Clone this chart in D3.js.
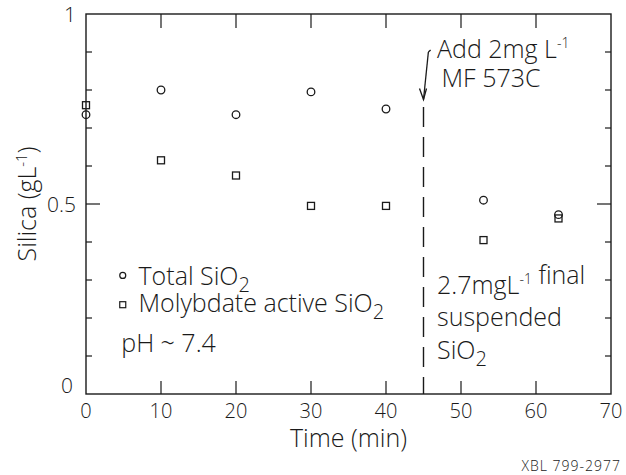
<!DOCTYPE html>
<html>
<head>
<meta charset="utf-8">
<script src="https://cdn.jsdelivr.net/npm/d3@7"></script>
<style>
  body { margin: 0; background: #fff; }
  text { font-family: "Open Sans", "DejaVu Sans", sans-serif; font-weight: 300; fill: #1a1a1a; }
</style>
</head>
<body>
<div id="chart"></div>
<script>
// sampling times (min) and silica readings (g/L)
const times = [0, 10, 20, 30, 40, 53, 63];
const totalSiO2 = [0.735, 0.80, 0.735, 0.795, 0.75, 0.51, 0.472];
const molybdateSiO2 = [0.76, 0.615, 0.575, 0.495, 0.495, 0.405, 0.462];
const xTicks = [0, 10, 20, 30, 40, 50, 60, 70];
const yLabelTicks = [0, 0.5, 1];
const yMinorTicks = [0.1, 0.2, 0.3, 0.4, 0.6, 0.7, 0.8, 0.9];
const additionTime = 45;

const width = 626;
const height = 475;
const margin = { top: 14, right: 15, bottom: 81, left: 86 };
const innerW = width - margin.left - margin.right;
const innerH = height - margin.top - margin.bottom;
const ink = "#1a1a1a";

const svg = d3.select("#chart")
    .append("svg")
    .attr("width", width)
    .attr("height", height);

const g = svg.append("g")
    .attr("transform", `translate(${margin.left},${margin.top})`);

const x = d3.scaleLinear().domain([0, 70]).range([0, innerW]);
const y = d3.scaleLinear().domain([0, 1]).range([innerH, 0]);

// frame
g.append("rect")
    .attr("width", innerW)
    .attr("height", innerH)
    .attr("fill", "none")
    .attr("stroke", ink)
    .attr("stroke-width", 1.4);

// ticks, all pointing inward
const inner = xTicks.slice(1, -1);
g.selectAll(".xtick-b").data(inner).enter().append("line")
    .attr("x1", d => x(d)).attr("x2", d => x(d))
    .attr("y1", innerH).attr("y2", innerH - 13)
    .attr("stroke", ink).attr("stroke-width", 1.2);
g.selectAll(".xtick-t").data(inner).enter().append("line")
    .attr("x1", d => x(d)).attr("x2", d => x(d))
    .attr("y1", 0).attr("y2", 14)
    .attr("stroke", ink).attr("stroke-width", 1.2);

const yAll = yMinorTicks.concat([0.5]);
g.selectAll(".ytick-l").data(yAll).enter().append("line")
    .attr("x1", 0).attr("x2", d => d === 0.5 ? 14 : 6)
    .attr("y1", d => y(d)).attr("y2", d => y(d))
    .attr("stroke", ink).attr("stroke-width", 1.2);
g.selectAll(".ytick-r").data(yAll).enter().append("line")
    .attr("x1", innerW).attr("x2", d => innerW - (d === 0.5 ? 14 : 6))
    .attr("y1", d => y(d)).attr("y2", d => y(d))
    .attr("stroke", ink).attr("stroke-width", 1.2);

// tick labels
g.selectAll(".xlab").data(xTicks).enter().append("text")
    .attr("x", d => x(d))
    .attr("y", innerH + 24)
    .attr("text-anchor", "middle")
    .style("font-size", "20px")
    .text(d => d);
g.selectAll(".ylab").data(yLabelTicks).enter().append("text")
    .attr("x", d => d === 0 ? -13 : -10)
    .attr("y", d => y(d) + (d === 0 ? -1 : 8))
    .attr("text-anchor", "end")
    .style("font-size", "21px")
    .text(d => d);

// axis titles
g.append("text")
    .attr("x", innerW / 2)
    .attr("y", innerH + 53)
    .attr("text-anchor", "middle")
    .style("font-size", "25px")
    .text("Time (min)");

const yt = g.append("text")
    .attr("transform", `translate(${-50},${innerH / 2}) rotate(-90)`)
    .attr("text-anchor", "middle")
    .style("font-size", "25px");
yt.append("tspan").text("Silica (gL");
yt.append("tspan").attr("dy", -9).style("font-size", "15px").text("-1");
yt.append("tspan").attr("dy", 9).text(")");

// data
const pts = times.map((t, i) => ({ t, total: totalSiO2[i], moly: molybdateSiO2[i] }));
g.selectAll(".total").data(pts).enter().append("circle")
    .attr("cx", d => x(d.t))
    .attr("cy", d => y(d.total))
    .attr("r", 3.8)
    .attr("fill", "none")
    .attr("stroke", ink)
    .attr("stroke-width", 1.3);
g.selectAll(".moly").data(pts).enter().append("rect")
    .attr("x", d => x(d.t) - 3.5)
    .attr("y", d => y(d.moly) - 3.5)
    .attr("width", 7)
    .attr("height", 7)
    .attr("fill", "none")
    .attr("stroke", ink)
    .attr("stroke-width", 1.3);

// addition marker
g.append("line")
    .attr("x1", x(additionTime)).attr("x2", x(additionTime))
    .attr("y1", y(0.755)).attr("y2", y(0))
    .attr("stroke", ink)
    .attr("stroke-width", 1.4)
    .attr("stroke-dasharray", "20,10");

g.append("line")
    .attr("x1", x(45.65)).attr("y1", y(0.9))
    .attr("x2", x(45.0)).attr("y2", y(0.775))
    .attr("stroke", ink).attr("stroke-width", 1.3);
g.append("path")
    .attr("d", `M${x(45.0) - 4},${y(0.775) - 11} L${x(45.0)},${y(0.775)} L${x(45.0) + 3},${y(0.775) - 11}`)
    .attr("fill", "none").attr("stroke", ink).attr("stroke-width", 1.3);
g.append("line")
    .attr("x1", x(45.65)).attr("y1", y(0.9))
    .attr("x2", x(45.95)).attr("y2", y(0.905))
    .attr("stroke", ink).attr("stroke-width", 1.3);

const fs = "25px";
function line(xv, yv, parts) {
    const t = g.append("text")
        .attr("x", x(xv)).attr("y", y(yv))
        .style("font-size", fs);
    parts.forEach(p => {
        if (p.sup) {
            t.append("tspan").attr("dy", -10).style("font-size", "14px").text(p.sup);
            t.append("tspan").attr("dy", 10).text("");
        } else if (p.sub) {
            t.append("tspan").attr("dy", 7).style("font-size", "20px").text(p.sub);
            t.append("tspan").attr("dy", -7).text("");
        } else {
            t.append("tspan").text(p.txt);
        }
    });
}

line(46.8, 0.884, [{ txt: "Add 2mg L" }, { sup: "-1" }]);
line(47.4, 0.809, [{ txt: "MF 573C" }]);
line(46.8, 0.263, [{ txt: "2.7mgL" }, { sup: "-1" }, { txt: " final" }]);
line(46.8, 0.178, [{ txt: "suspended" }]);
line(46.8, 0.092, [{ txt: "SiO" }, { sub: "2" }]);

// legend
g.append("circle")
    .attr("cx", x(4.9)).attr("cy", y(0.312))
    .attr("r", 3)
    .attr("fill", "none").attr("stroke", ink).attr("stroke-width", 1.2);
g.append("rect")
    .attr("x", x(4.9) - 3).attr("y", y(0.235) - 3)
    .attr("width", 6).attr("height", 6)
    .attr("fill", "none").attr("stroke", ink).attr("stroke-width", 1.2);
line(7.0, 0.288, [{ txt: "Total SiO" }, { sub: "2" }]);
line(7.0, 0.217, [{ txt: "Molybdate active SiO" }, { sub: "2" }]);
line(4.7, 0.11, [{ txt: "pH ~ 7.4" }]);

svg.append("text")
    .attr("x", 621)
    .attr("y", 471)
    .attr("text-anchor", "end")
    .style("font-size", "14px")
    .style("letter-spacing", "1px")
    .text("XBL 799-2977");
</script>
</body>
</html>
